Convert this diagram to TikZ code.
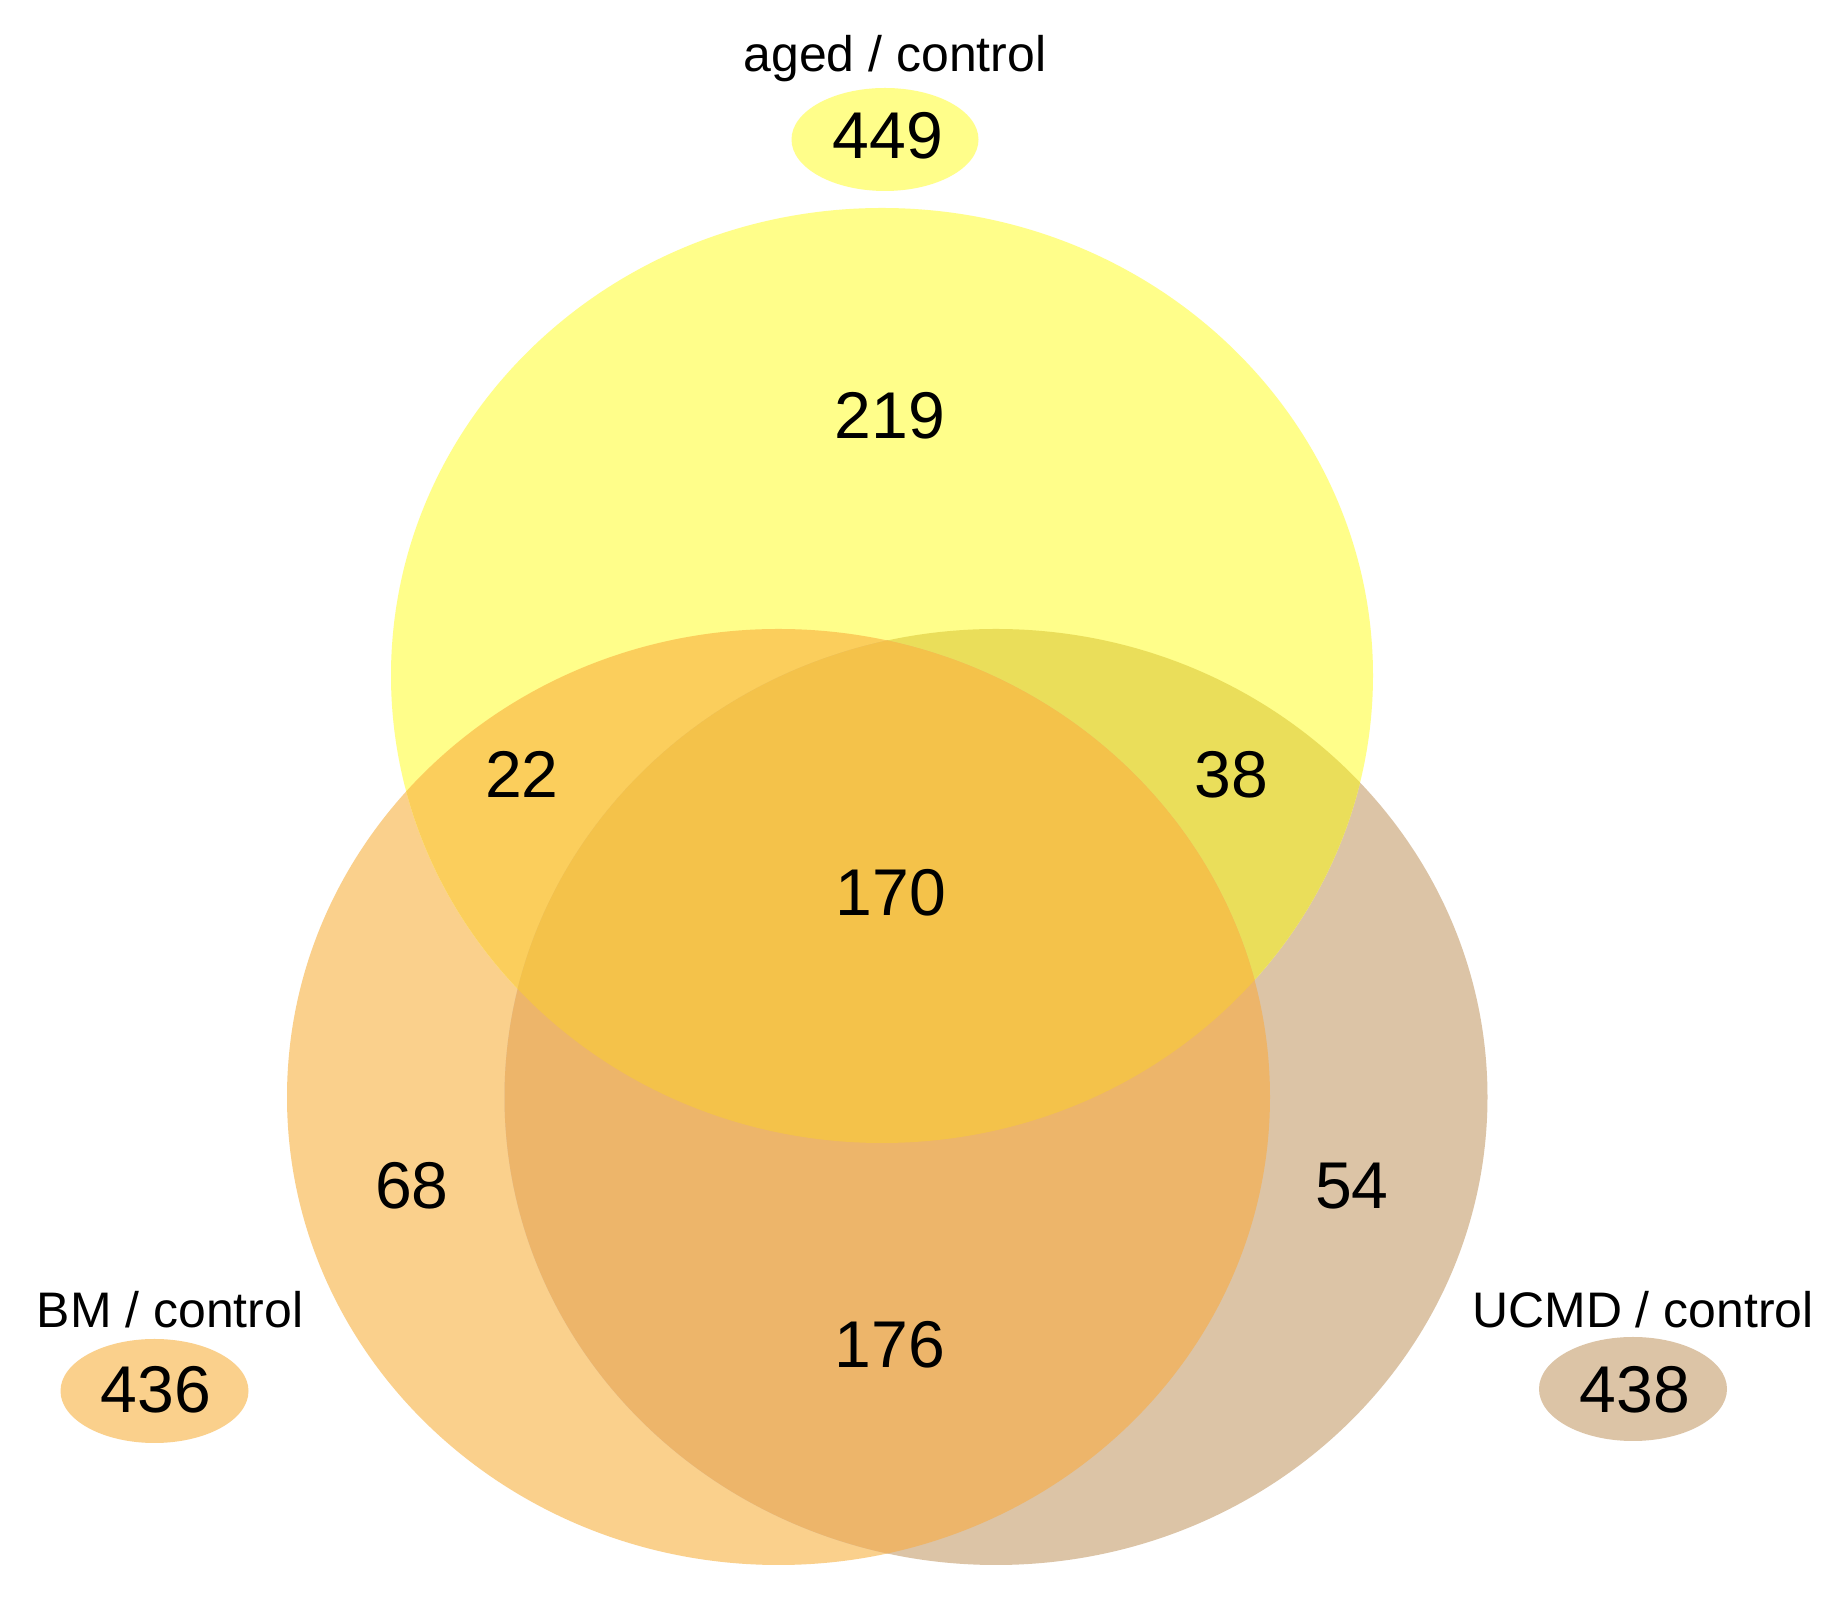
\documentclass[tikz,border=0pt]{standalone}
\usepackage{fontspec}
\setmainfont{Liberation Sans}
\definecolor{cA}{HTML}{FFFE8A}
\definecolor{cB}{HTML}{FAD08C}
\definecolor{cU}{HTML}{DCC4A6}
\definecolor{cAB}{HTML}{FBCE5C}
\definecolor{cAU}{HTML}{EADE5A}
\definecolor{cBU}{HTML}{EDB56A}
\definecolor{cABU}{HTML}{F4C24A}
\begin{document}
\begin{tikzpicture}[x=0.01cm,y=-0.01cm,
  num/.style={anchor=base,inner sep=0pt,font=\fontsize{18.8pt}{20pt}\selectfont},
  lab/.style={anchor=base,inner sep=0pt,font=\fontsize{14.2pt}{16pt}\selectfont}]
\useasboundingbox[fill=white] (0,0) rectangle (1844,1607);
\def\setA{(882,675.5) ellipse [x radius=491,y radius=467.5]}
\def\setB{(778.5,1097) ellipse [x radius=491.5,y radius=468]}
\def\setU{(996,1097) ellipse [x radius=491.5,y radius=468]}
% single sets
\fill[cB] \setB;
\fill[cU] \setU;
\fill[cA] \setA;
% pairwise
\begin{scope}\clip \setA; \fill[cAB] \setB; \end{scope}
\begin{scope}\clip \setA; \fill[cAU] \setU; \end{scope}
\begin{scope}\clip \setB; \fill[cBU] \setU; \end{scope}
% triple
\begin{scope}\clip \setA; \clip \setB; \fill[cABU] \setU; \end{scope}
% legend ellipses
\fill[cA] (885,139.5) ellipse [x radius=93.5,y radius=51.5];
\fill[cB] (154.5,1391) ellipse [x radius=94,y radius=52];
\fill[cU] (1633,1389) ellipse [x radius=94,y radius=52];
% labels
\node[lab] (labA) at (895,72) {aged / control};
\node[lab] (labB) at (170,1328) {BM / control};
\node[lab] (labU) at (1643,1328) {UCMD / control};
\node[num] (totA) at (888,159) {449};
\node[num] (totB) at (156,1413) {436};
\node[num] (totU) at (1635,1413) {438};
% region counts
\node[num] (nA) at (890,439) {219};
\node[num] (nAB) at (522,798) {22};
\node[num] (nAU) at (1231.5,798) {38};
\node[num] (nABU) at (891,916) {170};
\node[num] (nB) at (412,1209) {68};
\node[num] (nU) at (1352,1209) {54};
\node[num] (nBU) at (890,1368) {176};
\end{tikzpicture}
\end{document}
